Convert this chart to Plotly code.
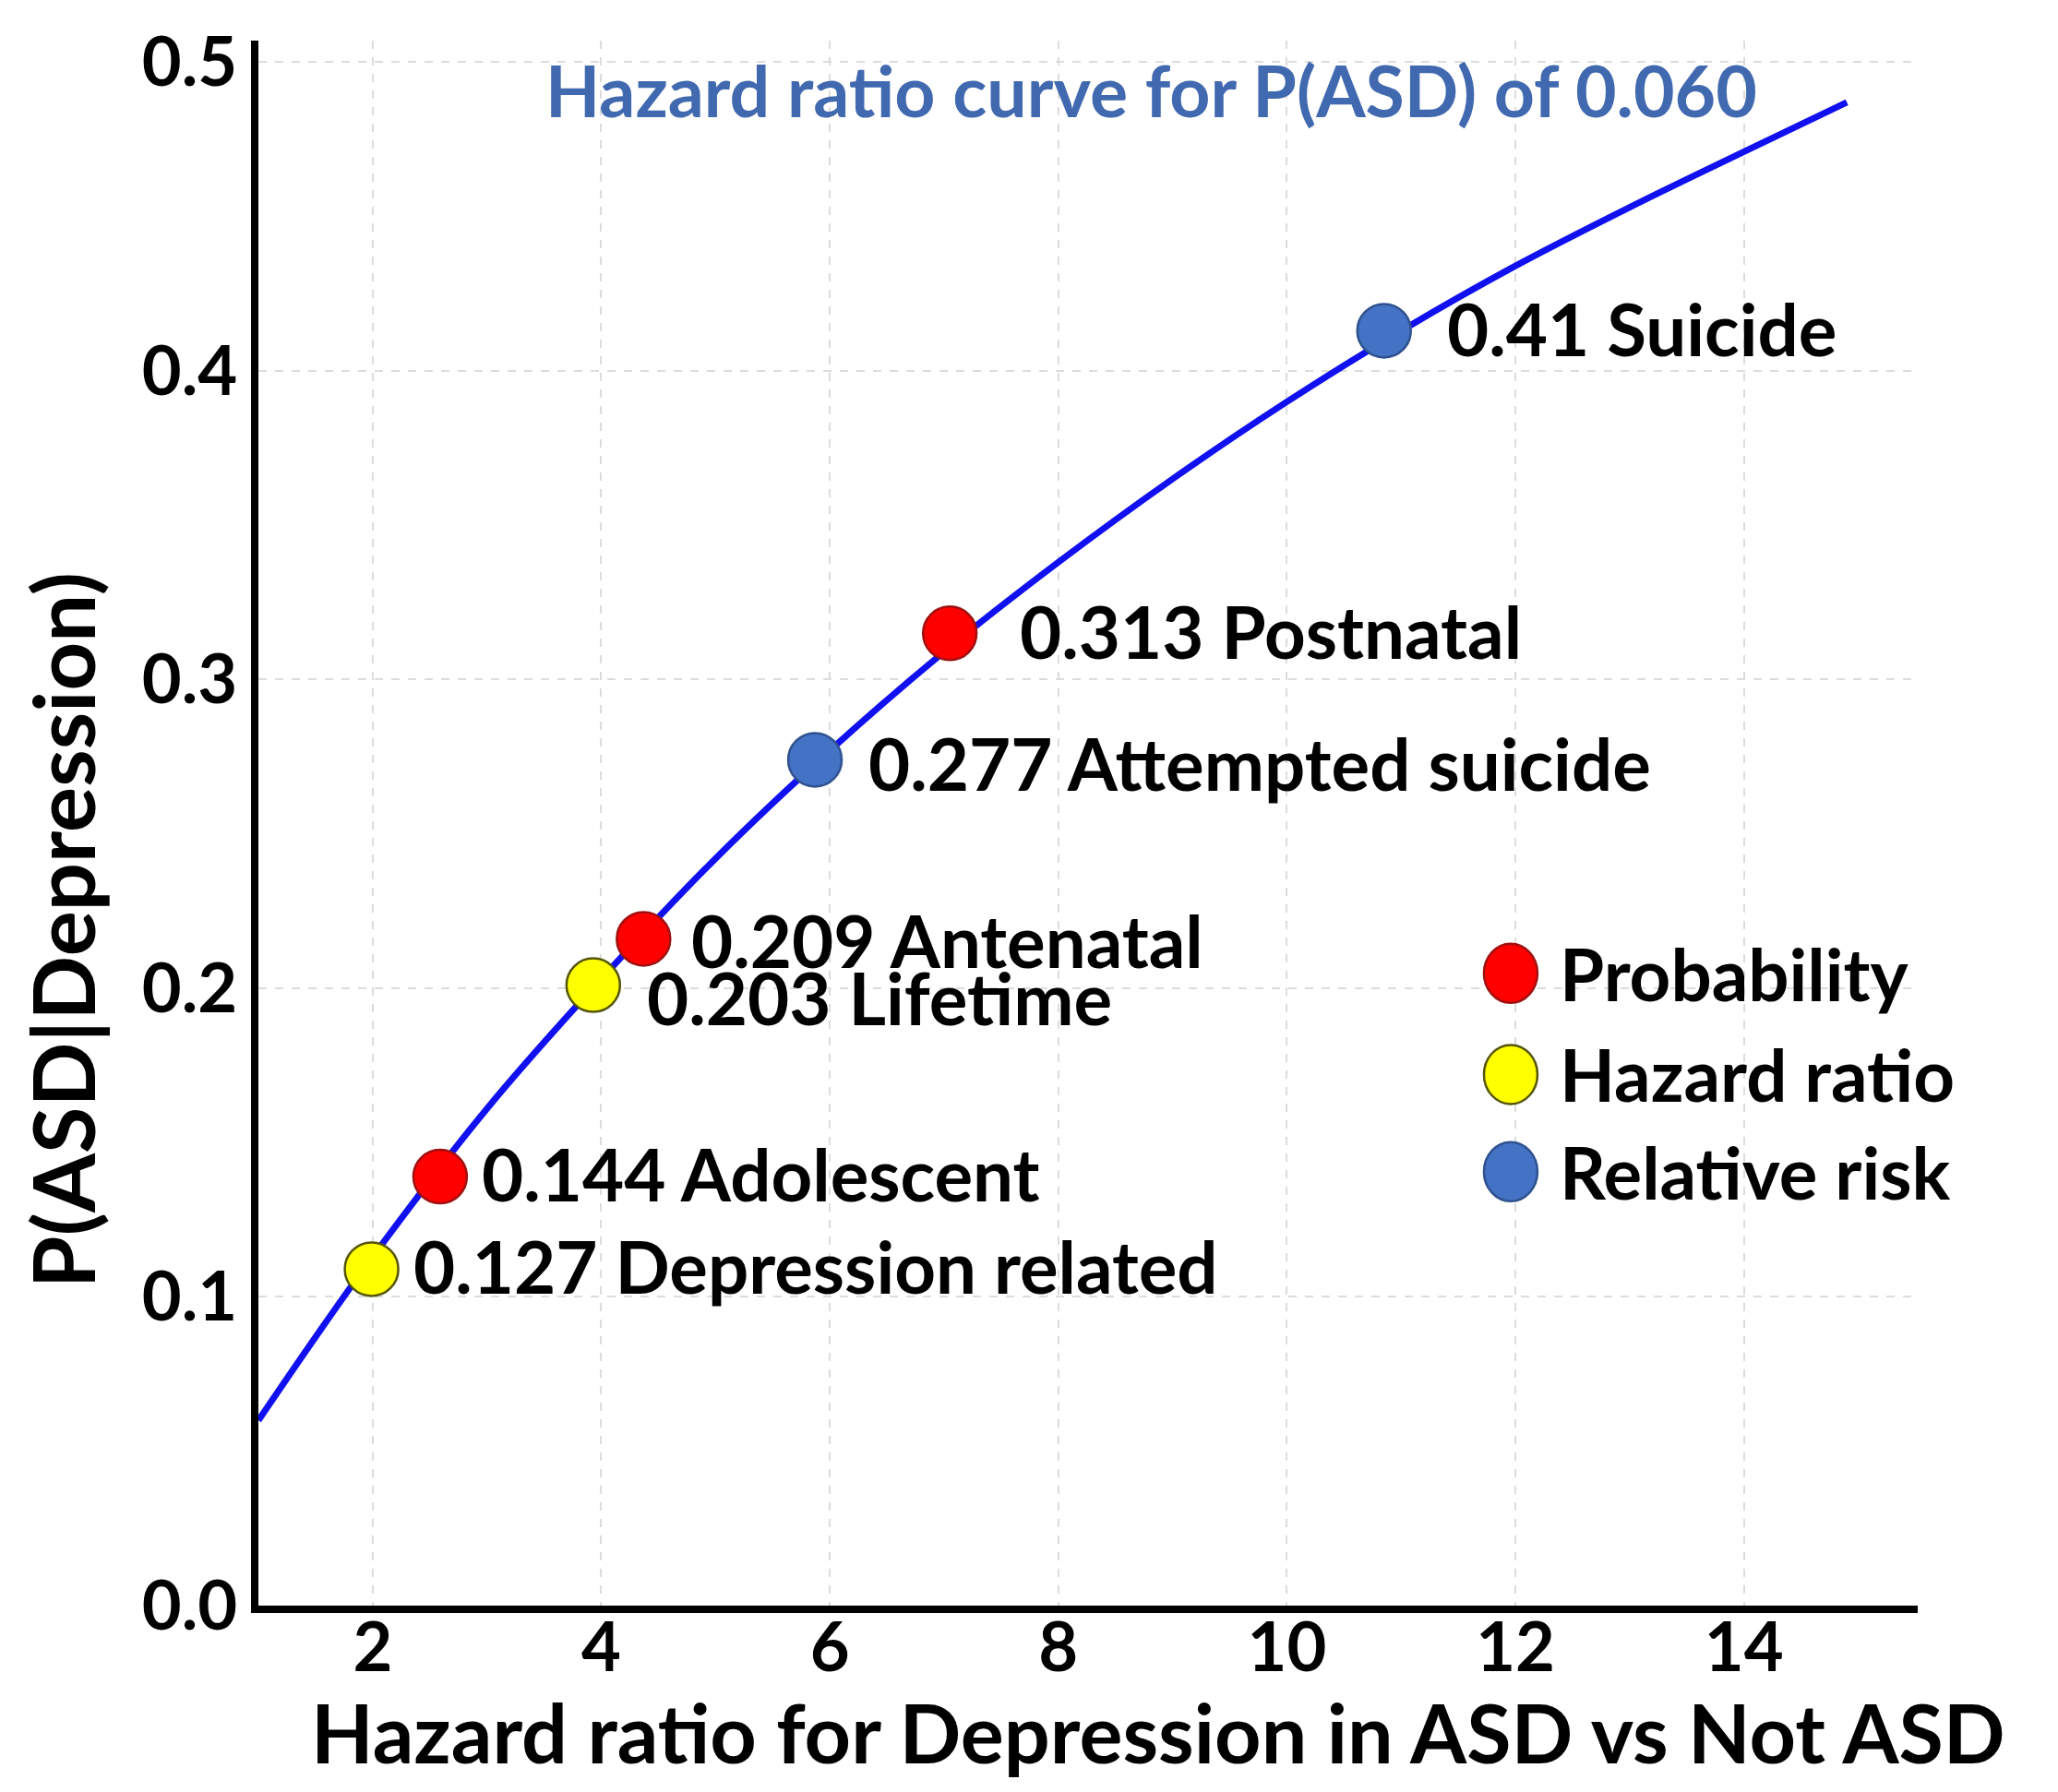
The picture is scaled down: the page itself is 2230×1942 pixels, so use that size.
import plotly.graph_objects as go

# hazard ratio curve
curve_hr = [1, 1.5, 2, 3, 4, 5, 6, 7, 8, 9, 10, 11, 12, 13, 14, 14.9]
curve_p = [0.060, 0.087, 0.113, 0.161, 0.203, 0.242, 0.277, 0.309, 0.338,
           0.365, 0.390, 0.413, 0.434, 0.453, 0.471, 0.487]

# studies placed on the curve
study_names = ["Suicide", "Postnatal", "Attempted suicide", "Antenatal",
               "Lifetime", "Adolescent", "Depression related"]
study_hr = [10.85, 7.05, 5.87, 4.37, 3.93, 2.59, 1.99]
study_p = [0.413, 0.315, 0.274, 0.216, 0.201, 0.139, 0.109]
study_label_value = ["0.41", "0.313", "0.277", "0.209", "0.203", "0.144", "0.127"]
study_type = ["Relative risk", "Probability", "Relative risk", "Probability",
              "Hazard ratio", "Probability", "Hazard ratio"]

legend_names = ["Probability", "Hazard ratio", "Relative risk"]

x_ticks = [2, 4, 6, 8, 10, 12, 14]
y_ticks = [0.0, 0.1, 0.2, 0.3, 0.4, 0.5]

fill = {"Probability": "#ff0000", "Hazard ratio": "#ffff00", "Relative risk": "#4472c4"}
edge = {"Probability": "#a01010", "Hazard ratio": "#55550a", "Relative risk": "#2f528f"}
# label offsets in pixels (x, y)
label_shift = [(66, 2), (74, 2), (56, -4), (50, -2), (56, -13), (43, 3), (43, 3)]

FONT = "Lato"
BOLD = {"family": FONT, "color": "black", "weight": "bold"}

fig = go.Figure()
fig.add_trace(go.Scatter(x=curve_hr, y=curve_p, mode="lines", line_shape="spline",
                         line={"color": "#1010f0", "width": 7}, hoverinfo="skip"))

for kind in legend_names:
    idx = [i for i, t in enumerate(study_type) if t == kind]
    fig.add_trace(go.Scatter(
        x=[study_hr[i] for i in idx], y=[study_p[i] for i in idx],
        mode="markers", name=kind,
        marker={"size": 58, "color": fill[kind], "line": {"color": edge[kind], "width": 2.5}}
    ))

for i, name in enumerate(study_names):
    fig.add_annotation(x=study_hr[i], y=study_p[i], xref="x", yref="y",
                       text=f"{study_label_value[i]} {name}", showarrow=False,
                       xanchor="left", yanchor="middle",
                       xshift=label_shift[i][0], yshift=label_shift[i][1],
                       font={**BOLD, "size": 78})

# hand drawn legend, like the original
legend_y = [0.404, 0.3394, 0.2773]
for name, ly in zip(legend_names, legend_y):
    fig.add_shape(type="circle", xref="paper", yref="paper",
                  xsizemode="pixel", ysizemode="pixel",
                  xanchor=0.7547, yanchor=ly, x0=-29, x1=29, y0=-32, y1=32,
                  fillcolor=fill[name], line={"color": edge[name], "width": 2.5})
    fig.add_annotation(x=0.783, y=ly, xref="paper", yref="paper", text=name,
                       showarrow=False, xanchor="left", yanchor="middle",
                       font={**BOLD, "size": 78})

fig.add_annotation(x=0.538, y=0.969, xref="paper", yref="paper",
                   text="Hazard ratio curve for P(ASD) of 0.060", showarrow=False,
                   xanchor="center", yanchor="middle",
                   font={"family": FONT, "size": 77, "color": "#4169b0", "weight": "bold"})
fig.add_annotation(x=0.542, y=-0.081, xref="paper", yref="paper",
                   text="Hazard ratio for Depression in ASD vs Not ASD", showarrow=False,
                   xanchor="center", yanchor="middle",
                   font={**BOLD, "size": 88})
fig.add_annotation(x=-0.118, y=0.4314, xref="paper", yref="paper",
                   text="P(ASD|Depression)", showarrow=False, textangle=-90,
                   xanchor="center", yanchor="middle",
                   font={**BOLD, "size": 92})

fig.update_layout(
    width=2230, height=1942,
    margin={"l": 272, "r": 160, "t": 26, "b": 210},
    paper_bgcolor="white", plot_bgcolor="white",
    showlegend=False,
)
fig.update_xaxes(
    range=[1, 15.52], tickvals=x_ticks, showline=True, linecolor="black", linewidth=8,
    showgrid=True, gridcolor="#dcdcdc", gridwidth=2, griddash="dash", zeroline=False,
    ticklabelstandoff=-26,
    tickfont={**BOLD, "size": 74},
)
fig.update_yaxes(
    range=[0, 0.507], tickvals=y_ticks, tickformat=".1f", showline=True,
    linecolor="black", linewidth=8,
    showgrid=True, gridcolor="#dcdcdc", gridwidth=2, griddash="dash", zeroline=False,
    tickfont={**BOLD, "size": 74},
)

fig.write_html("out.html")
